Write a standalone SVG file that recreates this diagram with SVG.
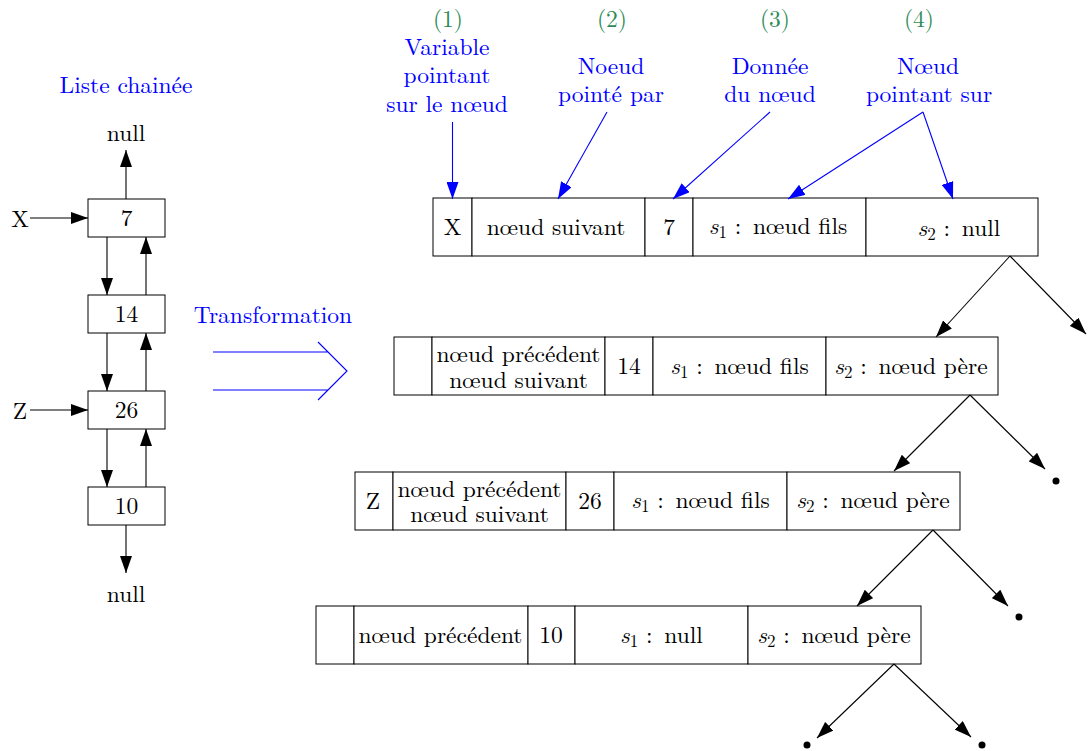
<svg xmlns="http://www.w3.org/2000/svg" width="1089" height="751" viewBox="0 0 1089 751" font-family="'Latin Modern Roman', 'Liberation Serif', serif">
<style>
text{font-size:23.5px;fill:#000;text-anchor:middle}
.b{fill:#0000ff}
.g{fill:#2e8b57}
.sub{font-size:17px}
.i{font-style:italic}
rect{fill:#fff;stroke:#000;stroke-width:1}
.k{stroke:#000;stroke-width:1.1;fill:none}
.bl{stroke:#0000ff;stroke-width:1.1;fill:none}
</style>
<defs>
<marker id="ak" markerUnits="userSpaceOnUse" markerWidth="17" markerHeight="12" viewBox="0 0 17 12" refX="17" refY="6" orient="auto"><path d="M0,0 L17,6 L0,12 z" fill="#000"/></marker>
<marker id="ab" markerUnits="userSpaceOnUse" markerWidth="17" markerHeight="12" viewBox="0 0 17 12" refX="17" refY="6" orient="auto"><path d="M0,0 L17,6 L0,12 z" fill="#0000ff"/></marker>
</defs>

<!-- left linked list -->
<text id="title-list" class="b" x="126" y="93">Liste chainée</text>
<g id="null-top"><text x="126" y="141">null</text></g>
<g id="label-X"><text x="20" y="227">X</text></g>
<g id="label-Z"><text x="20" y="419">Z</text></g>
<g id="n7"><rect x="88" y="199" width="77" height="38"/><text x="126.5" y="226">7</text></g>
<g id="n14"><rect x="88" y="295" width="77" height="38"/><text x="126.5" y="322">14</text></g>
<g id="n26"><rect x="88" y="391" width="77" height="38"/><text x="126.5" y="418">26</text></g>
<g id="n10"><rect x="88" y="487" width="77" height="38"/><text x="126.5" y="514">10</text></g>
<g id="null-bottom"><text x="126" y="602">null</text></g>

<!-- transformation -->
<g id="transformation">
<text class="b" x="273" y="323">Transformation</text>
<path class="bl" d="M213,352 H328 M213,390 H328 M318,342 L347,371 L318,400"/>
</g>

<!-- annotations -->
<g id="ann1"><text class="g" x="448" y="27">(1)</text><text class="b" x="447" y="55">Variable</text><text class="b" x="447" y="83">pointant</text><text class="b" x="447" y="112">sur le nœud</text></g>
<g id="ann2"><text class="g" x="612" y="27">(2)</text><text class="b" x="611" y="74">Noeud</text><text class="b" x="611" y="102">pointé par</text></g>
<g id="ann3"><text class="g" x="775" y="27">(3)</text><text class="b" x="770" y="74">Donnée</text><text class="b" x="770" y="102">du nœud</text></g>
<g id="ann4"><text class="g" x="919" y="27">(4)</text><text class="b" x="928" y="74">Nœud</text><text class="b" x="929" y="102">pointant sur</text></g>

<!-- row 1 -->
<g id="row1">
<rect x="433" y="198" width="39" height="58"/><rect x="472" y="198" width="173" height="58"/><rect x="645" y="198" width="48" height="58"/><rect x="693" y="198" width="173" height="58"/><rect x="866" y="198" width="172" height="58"/>
<text x="452.5" y="235">X</text>
<text x="556" y="235">nœud suivant</text>
<text x="669" y="235">7</text>
<text x="778" y="234"><tspan class="i">s</tspan><tspan class="sub" dy="4">1</tspan><tspan dy="-4"> :&#8194;nœud fils</tspan></text>
<text x="959" y="236"><tspan class="i">s</tspan><tspan class="sub" dy="4">2</tspan><tspan dy="-4"> :&#8194;null</tspan></text>
</g>
<!-- row 2 -->
<g id="row2">
<rect x="394" y="337" width="38" height="58"/><rect x="432" y="337" width="173" height="58"/><rect x="605" y="337" width="48" height="58"/><rect x="653" y="337" width="173" height="58"/><rect x="826" y="337" width="172" height="58"/>
<text x="518.5" y="362">nœud précédent</text>
<text x="518.5" y="388">nœud suivant</text>
<text x="629" y="374">14</text>
<text x="739.5" y="374"><tspan class="i">s</tspan><tspan class="sub" dy="4">1</tspan><tspan dy="-4"> :&#8194;nœud fils</tspan></text>
<text x="911" y="374"><tspan class="i">s</tspan><tspan class="sub" dy="4">2</tspan><tspan dy="-4"> :&#8194;nœud père</tspan></text>
</g>
<!-- row 3 -->
<g id="row3">
<rect x="355" y="472" width="38" height="58"/><rect x="393" y="472" width="173" height="58"/><rect x="566" y="472" width="48" height="58"/><rect x="614" y="472" width="173" height="58"/><rect x="787" y="472" width="173" height="58"/>
<text x="373" y="509">Z</text>
<text x="479.5" y="497">nœud précédent</text>
<text x="479.5" y="522">nœud suivant</text>
<text x="590" y="509">26</text>
<text x="700.5" y="508"><tspan class="i">s</tspan><tspan class="sub" dy="4">1</tspan><tspan dy="-4"> :&#8194;nœud fils</tspan></text>
<text x="873" y="508"><tspan class="i">s</tspan><tspan class="sub" dy="4">2</tspan><tspan dy="-4"> :&#8194;nœud père</tspan></text>
</g>
<!-- row 4 -->
<g id="row4">
<rect x="316" y="606" width="38" height="58"/><rect x="354" y="606" width="174" height="58"/><rect x="528" y="606" width="47" height="58"/><rect x="575" y="606" width="173" height="58"/><rect x="748" y="606" width="173" height="58"/>
<text x="440.5" y="643">nœud précédent</text>
<text x="551" y="643">10</text>
<text x="661.5" y="643"><tspan class="i">s</tspan><tspan class="sub" dy="4">1</tspan><tspan dy="-4"> :&#8194;null</tspan></text>
<text x="834" y="643"><tspan class="i">s</tspan><tspan class="sub" dy="4">2</tspan><tspan dy="-4"> :&#8194;nœud père</tspan></text>
</g>

<!-- dots -->
<g id="dots">
<circle cx="1056" cy="481" r="3.5"/>
<circle cx="1019" cy="617" r="3.5"/>
<circle cx="807" cy="745" r="3.5"/>
<circle cx="982" cy="745" r="3.5"/>
</g>

<!-- connectors -->
<g id="connectors">
<g class="k" marker-end="url(#ak)">
<line x1="126" y1="199" x2="126" y2="150"/>
<line x1="30" y1="218" x2="88" y2="218"/>
<line x1="30" y1="410" x2="88" y2="410"/>
<line x1="107" y1="237" x2="107" y2="295"/>
<line x1="146" y1="295" x2="146" y2="237"/>
<line x1="107" y1="333" x2="107" y2="391"/>
<line x1="146" y1="391" x2="146" y2="333"/>
<line x1="107" y1="429" x2="107" y2="487"/>
<line x1="146" y1="487" x2="146" y2="429"/>
<line x1="126" y1="525" x2="126" y2="573"/>
<line x1="1010" y1="256" x2="936" y2="337"/>
<line x1="1010" y1="256" x2="1086" y2="334"/>
<line x1="970" y1="395" x2="894" y2="471"/>
<line x1="970" y1="395" x2="1045" y2="469"/>
<line x1="933" y1="530" x2="857" y2="606"/>
<line x1="933" y1="530" x2="1008" y2="606"/>
<line x1="894" y1="664" x2="817" y2="738"/>
<line x1="894" y1="664" x2="971" y2="737"/>
</g>
<g class="bl" marker-end="url(#ab)">
<line x1="452.5" y1="122" x2="452.5" y2="199"/>
<line x1="607" y1="112" x2="558" y2="199"/>
<line x1="770" y1="112" x2="673" y2="199"/>
<line x1="923" y1="112" x2="788" y2="199"/>
<line x1="923" y1="112" x2="953" y2="199"/>
</g>
</g>
</svg>
